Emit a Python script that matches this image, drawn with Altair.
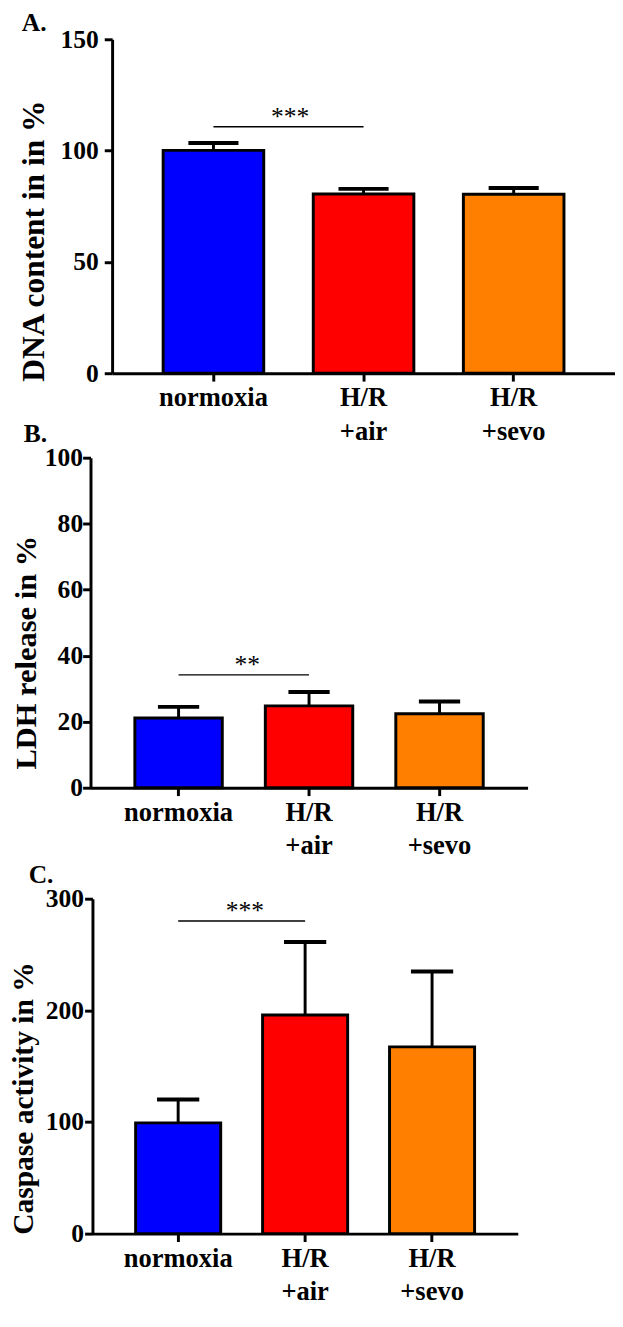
import altair as alt
import pandas as pd

groups = ["normoxia", "H/R\n+air", "H/R\n+sevo"]
colors = ["#0000FF", "#FF0000", "#FF8000"]

dna_mean = [100.1, 80.5, 80.4]
dna_err = [3.3, 2.3, 2.8]
ldh_mean = [21.1, 24.8, 22.4]
ldh_err = [3.4, 4.2, 3.7]
casp_mean = [99.2, 195.8, 167.3]
casp_err = [21.0, 65.5, 67.5]

dna_ticks = [0, 50, 100, 150]
ldh_ticks = [0, 20, 40, 60, 80, 100]
casp_ticks = [0, 100, 200, 300]

sig_from = "normoxia"
sig_to = "H/R\n+air"
dna_sig = 110.7
ldh_sig = 34.2
casp_sig = 280.0
dna_stars = "***"
ldh_stars = "**"
casp_stars = "***"

SERIF = "Liberation Serif"


def panel(letter, ytitle, means, errs, ticks, sig, stars, width, xoff, height, ytop,
          cap, label_pad, title_x, title_y, title_size, title_dx, title_off, star_dx):
    df = pd.DataFrame({"group": groups, "mean": means, "err": errs, "color": colors})
    df["top"] = df["mean"] + df["err"]
    sdf = pd.DataFrame({"a": [sig_from], "b": [sig_to], "y": [sig], "t": [stars]})

    xscale = alt.Scale(domain=groups, range=[-xoff, width], paddingInner=0.33,
                       paddingOuter=0.34)
    xaxis = alt.Axis(title=None, labelAngle=0, labelExpr="split(datum.label, '\\n')",
                     labelFont=SERIF, labelFontSize=27, labelFontWeight="bold",
                     labelColor="black", labelLineHeight=34, labelPadding=4,
                     domainWidth=3, domainColor="black", tickWidth=3, tickSize=8,
                     tickColor="black", grid=False)
    yscale = alt.Scale(domain=[ticks[0], ticks[-1]], nice=False, zero=True,
                       range=[height, ytop])
    yaxis = alt.Axis(title=ytitle, values=ticks, offset=xoff, labelFont=SERIF,
                     labelFontSize=26, labelFontWeight="bold", labelColor="black",
                     labelPadding=label_pad, domainWidth=3, domainColor="black",
                     tickWidth=3, tickSize=8, tickColor="black", grid=False,
                     titleFont=SERIF, titleFontSize=title_size, titleFontWeight="bold",
                     titleColor="black", titleX=title_x, titleY=title_y,
                     titleBaseline="alphabetic", titleAngle=270, titleAlign="center")

    def X(field):
        return alt.X(field + ":N", scale=xscale, axis=xaxis)

    def Y(field):
        return alt.Y(field + ":Q", scale=yscale, axis=yaxis)

    base = alt.Chart(df)
    bars = base.mark_bar(stroke="black", strokeWidth=3).encode(
        x=X("group"), y=Y("mean"),
        color=alt.Color("group:N", scale=alt.Scale(domain=groups, range=colors),
                        legend=None),
    )
    err = base.mark_rule(color="black", strokeWidth=3).encode(
        x=X("group"), y=Y("mean"), y2="top"
    )
    caps = base.mark_tick(color="black", thickness=4, size=cap, opacity=1).encode(
        x=X("group"), y=Y("top")
    )
    sbase = alt.Chart(sdf)
    srule = sbase.mark_rule(color="black", strokeWidth=1.4).encode(
        x=X("a"), x2="b", y=Y("y")
    )
    stext = sbase.mark_text(font=SERIF, fontSize=26, color="black", baseline="alphabetic",
                            align="center", dx=star_dx, dy=-2).encode(
        x=X("a"), y=Y("y"), text="t:N"
    )
    return alt.layer(bars, err, caps, srule, stext).properties(
        width=width, height=height,
        title=alt.TitleParams(letter, anchor="start", frame="group", dx=title_dx,
                              offset=title_off, font=SERIF, fontSize=26,
                              fontWeight="bold", color="black", baseline="alphabetic"),
    )


pa = panel("A.", "DNA content in in %", dna_mean, dna_err, dna_ticks, dna_sig, dna_stars,
           512, 0, 340, 0, 51, 6, -70, 205, 32, -92, -31, 78)
pb = panel("B.", "LDH release in %", ldh_mean, ldh_err, ldh_ticks, ldh_sig, ldh_stars,
           423, 22, 336, 0, 42, 0, -56, 198, 31, -90, -23, 70)
pc = panel("C.", "Caspase  activity in %", casp_mean, casp_err, casp_ticks, casp_sig,
           casp_stars, 413, 20, 368, 27, 43, 1, -61, 230, 30, -85, -37, 68)

chart = alt.vconcat(pa, pb, pc, spacing=86, bounds="flush").properties(
    padding={"left": 0, "top": -9, "right": 0, "bottom": 0},
    background="white",
).configure_view(stroke=None)

chart.save("out.html", embed_options={"renderer": "svg", "actions": False})
